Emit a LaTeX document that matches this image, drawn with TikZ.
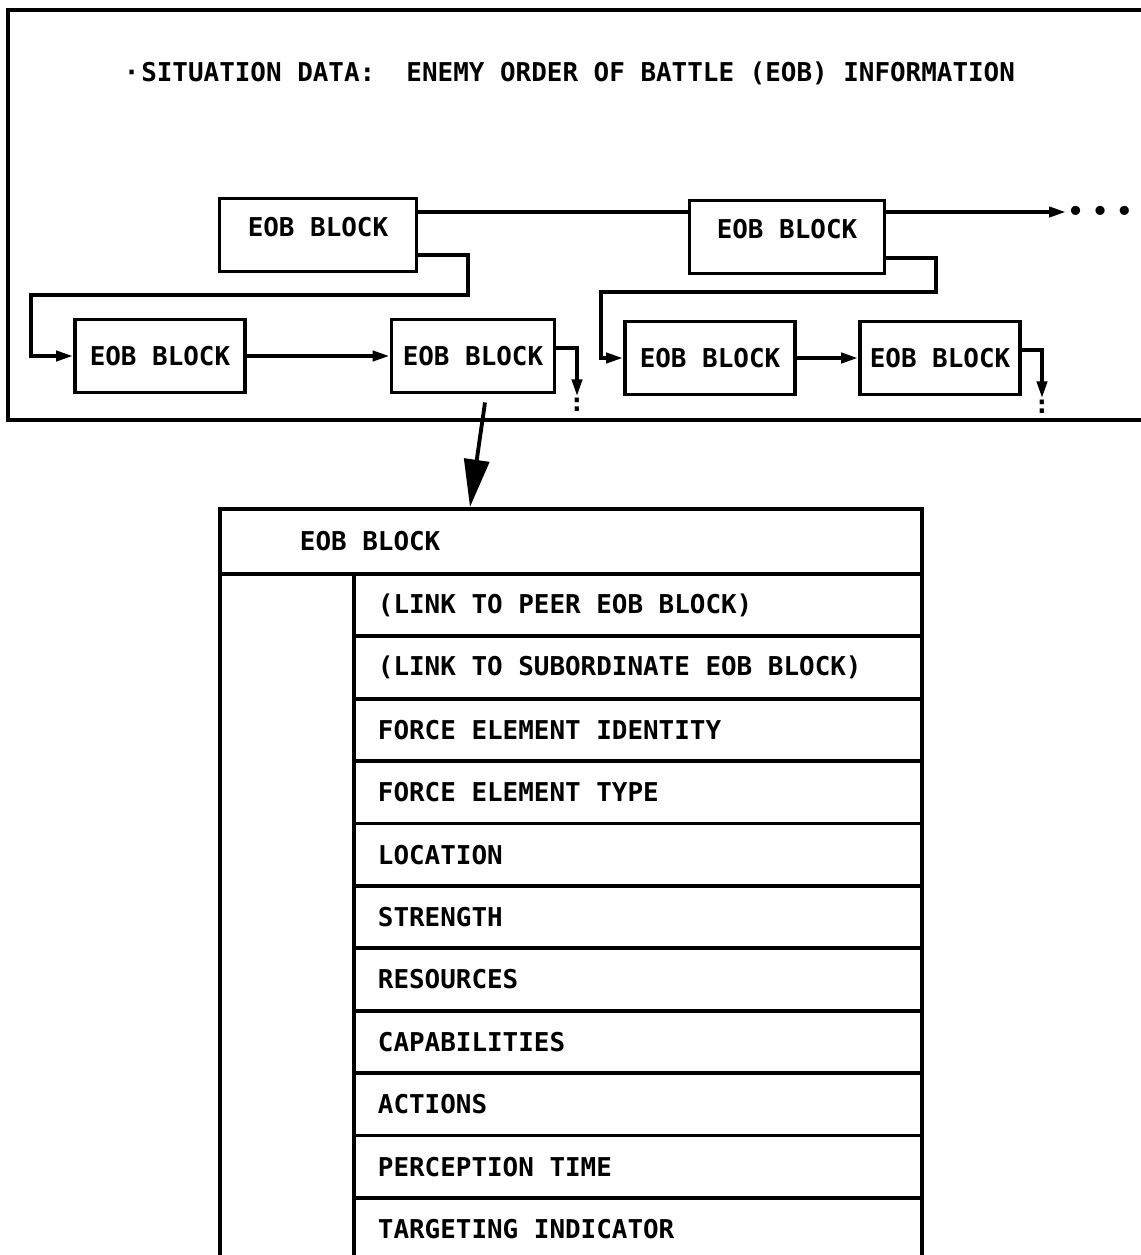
\documentclass[tikz,border=0pt]{standalone}
\usepackage{fontspec}
\setmonofont{DejaVu Sans Mono}
\usetikzlibrary{arrows.meta,calc}

\begin{document}
\begin{tikzpicture}[x=0.02cm,y=-0.02cm,
    font=\ttfamily\bfseries\fontsize{14.75pt}{17pt}\selectfont,
    line width=2.2pt,
    eob/.style={draw,rectangle,inner sep=0pt,minimum height=1.46cm},
    link/.style={-{Triangle[length=0.34cm,width=0.2cm]}},
    bigarrow/.style={-{Triangle[length=0.95cm,width=0.5cm]}},
    field/.style={draw,rectangle,anchor=north west,minimum height=1.248cm,
      inner xsep=0.48cm,inner ysep=0pt}]
    \useasboundingbox (0,0) rectangle (1140,1255);
    % situation data frame
    \draw (1150,10) -| (8,420) -- (1150,420);
    \node[anchor=west,inner sep=0pt] (title) at (122,73)
      {·\kern1pt SITUATION DATA:\ \ ENEMY ORDER OF BATTLE (EOB) INFORMATION};
    \node[eob,minimum width=3.94cm,text depth=0.34cm] (blkA) at (318,235) {EOB BLOCK};
    \node[eob,minimum width=3.9cm,text depth=0.32cm] (blkB) at (787,237) {EOB BLOCK};
    \node[eob,minimum width=3.4cm] (blkC) at (160,356) {EOB BLOCK};
    \node[eob,minimum width=3.26cm] (blkD) at (473,356) {EOB BLOCK};
    \node[eob,minimum width=3.4cm] (blkE) at (710,358) {EOB BLOCK};
    \node[eob,minimum width=3.2cm] (blkF) at (940,358) {EOB BLOCK};
    \node[anchor=west,inner sep=0pt] (more) at (1066,213)
      {\textbullet\hspace{5pt}\textbullet\hspace{5pt}\textbullet};
    \node[inner sep=0pt] (endD) at (577,405) {:};
    \node[inner sep=0pt] (endF) at (1042,407) {:};
    % peer links
    \coordinate (peerA) at ($(blkA.east)+(0,-23)$);
    \draw (peerA) -- (peerA -| blkB.west);
    \coordinate (peerB) at ($(blkB.east)+(0,-25)$);
    \draw[link] (peerB) -- (peerB -| more.west);
    \draw[link] (blkC) -- (blkD);
    \draw[link] (blkE) -- (blkF);
    % subordinate links
    \coordinate (subA) at ($(blkA.east)+(0,20)$);
    \draw[link] (subA) -| ++(50,40) -| ($(blkC.west)+(-42,0)$) -- (blkC.west);
    \coordinate (subB) at ($(blkB.east)+(0,21)$);
    \draw[link] (subB) -| ++(50,34) -| ($(blkE.west)+(-22,0)$) -- (blkE.west);
    \draw[link] ($(blkD.east)+(0,-8)$) -| (endD.north);
    \draw[link] ($(blkF.east)+(0,-8)$) -| (endF.north);
    % block layout
    \node[draw,anchor=north west,minimum height=1.3cm,inner xsep=1.6cm,
      inner ysep=0pt] (hdr) at (218,507) {\makebox[10.84cm][l]{EOB BLOCK}};
    \draw[bigarrow] ($(blkD.south)+(12,8)$) -- ($(hdr.north west)+(252,0)$);
    \node[draw,anchor=north west,minimum width=2.68cm,minimum height=13.8cm,
      inner sep=0pt] (keycol) at (218,572) {};
    \foreach \txt [count=\i] in {(LINK TO PEER EOB BLOCK),(LINK TO SUBORDINATE EOB BLOCK),
        FORCE ELEMENT IDENTITY,FORCE ELEMENT TYPE,LOCATION,STRENGTH,RESOURCES,
        CAPABILITIES,ACTIONS,PERCEPTION TIME,TARGETING INDICATOR}
      \node[field] (fld\i) at (352,{572+62.4*(\i-1)}) {\makebox[10.4cm][l]{\txt}};
  \end{tikzpicture}
\end{document}
